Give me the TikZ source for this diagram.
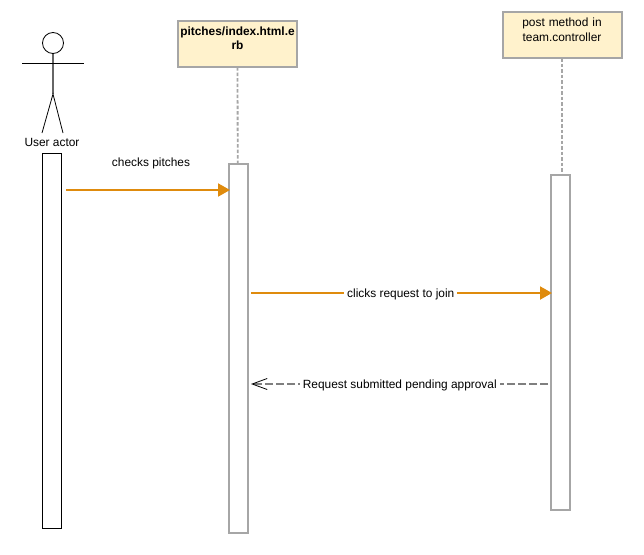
\documentclass[tikz,border=0pt]{standalone}
\usepackage{fontspec}
\setmainfont{Liberation Sans}
\usetikzlibrary{arrows.meta, positioning, calc}
\definecolor{boxfill}{HTML}{FFF2CC}
\definecolor{boxline}{HTML}{A6A6A6}
\definecolor{msgline}{HTML}{DF8B0D}
\definecolor{retline}{HTML}{7F7F7F}
\newcommand*{\lbl}{\fontsize{11.9}{14.2}\selectfont}

\begin{document}
\begin{tikzpicture}[
      x=1pt,y=-1pt,font=\lbl,
      object/.style={draw=boxline,fill=boxfill,line width=2pt,minimum width=119pt,minimum height=46pt,
        text width=117pt,align=center,anchor=north west,outer sep=0pt,inner sep=0pt},
      bar/.style={draw=boxline,fill=white,line width=2pt,minimum width=19pt,anchor=north west,outer sep=0pt,inner sep=0pt},
      lifeline/.style={draw=boxline,line width=1.8pt,dash pattern=on 3.5pt off 2pt},
      call/.style={draw=msgline,line width=2pt,shorten >=-1.5pt,-{Stealth[length=12pt,width=13pt,inset=0pt]}},
      answer/.style={draw=retline,line width=1.4pt,dash pattern=on 8pt off 3pt,
        -{Straight Barb[length=15pt,width=11pt,black,line width=.8pt]}},
      msg/.style={fill=white,inner sep=3pt,text=black,yshift=-1pt},
      ]
      \useasboundingbox (0,0) rectangle (644,554);

      % actor
      \node[draw,circle,minimum size=21pt,inner sep=0pt,outer sep=0pt,line width=.8pt] (head) at (53,43) {};
      \coordinate (hip) at (53,94);
      \coordinate (arm_l) at (22,63);
      \coordinate (arm_r) at (84,63);
      \coordinate (foot_l) at (42,133);
      \coordinate (foot_r) at (63,133);
      \draw[line width=1.2pt,black!60] (head) -- (hip);
      \draw[line width=.8pt] (arm_l) -- (arm_r);
      \draw[line width=.8pt] (foot_l) -- (hip) -- (foot_r);
      \node (user) at (52,142) {User actor};

      % objects
      \node[object] (index) at (178,21) {\textbf{pitches/index.html.e}\\\textbf{rb}\\[-2.5pt]~};
      \node[object] (post) at (502.5,12) {post method in\\team.controller\\[-3.5pt]~};

      % bars
      \node[draw,line width=1pt,fill=white,minimum width=19pt,minimum height=374.5pt,anchor=north west,outer sep=0pt,inner sep=0pt] (bar_user) at (42.5,153.5) {};
      \node[bar,minimum height=369pt] (bar_index) at (228.5,164) {};
      \node[bar,minimum height=335pt] (bar_post) at (550.5,174.5) {};

      % lifelines
      \draw[lifeline] (index) -- (bar_index);
      \draw[lifeline] (post) -- (post.south |- bar_post.north);

      % messages
      \coordinate (c_1) at (66,190);
      \coordinate (c_2) at (251,293);
      \coordinate (c_3) at (548,384);
      \coordinate (c_4) at (251,384);
      \draw[call] (c_1) -- (c_1 -| bar_index.west);
      \node (m_1) at (151,163) {checks pitches};
      \draw[call] (c_2) -- node[msg] (m_2) {clicks request to join} (c_2 -| bar_post.west);
      \draw[answer] (c_3) -- node[msg,pos=.499] (m_3) {Request submitted pending approval} (c_4);
    \end{tikzpicture}
\end{document}
